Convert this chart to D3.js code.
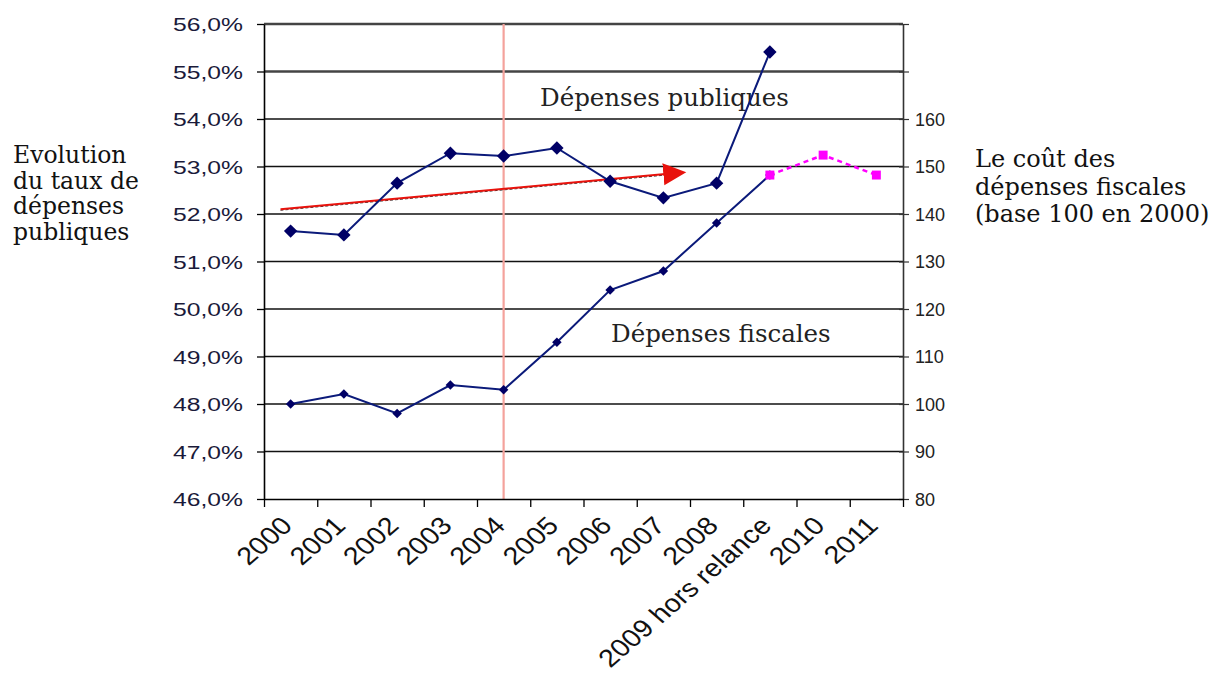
<!DOCTYPE html>
<html>
<head>
<meta charset="utf-8">
<script src="https://cdn.jsdelivr.net/npm/d3@7"></script>
<style>
body { margin: 0; background: #fff; }
</style>
</head>
<body>
<script>
const width = 1226;
const height = 700;

// data
const years = ['2000', '2001', '2002', '2003', '2004', '2005', '2006', '2007', '2008', '2009 hors relance', '2010', '2011'];
const publiques = [51.64, 51.56, 52.65, 53.28, 53.22, 53.39, 52.69, 52.34, 52.65, 55.41];
const fiscales = [100, 102.1, 98, 104, 103, 113, 124, 128, 138.1, 148.2];
const projYears = ['2009 hors relance', '2010', '2011'];
const projFiscales = [148.2, 152.4, 148.2];
const leftTicks = [46, 47, 48, 49, 50, 51, 52, 53, 54, 55, 56];
const rightTicks = [80, 90, 100, 110, 120, 130, 140, 150, 160, 170, 180];
const rightLabelled = [80, 90, 100, 110, 120, 130, 140, 150, 160];
const markerYear = '2004';
const trendFrom = {i: -0.19, v: 52.1};
const trendTo = {i: 7.45, v: 52.84};
const leftTitle = ['Evolution', 'du taux de', 'dépenses', 'publiques'];
const rightTitle = ['Le coût des', 'dépenses fiscales', '(base 100 en 2000)'];

const m = {left: 264, right: 323, top: 24, bottom: 201};
const x0 = m.left, x1 = width - m.right, yTop = m.top, yBot = height - m.bottom;

const svg = d3.select('body').append('svg').attr('width', width).attr('height', height);

const xs = d3.scaleBand().domain(years).range([x0, x1]);
const bw = xs.bandwidth();
const cx = d => xs(d) + bw / 2;
const xi = d3.scaleLinear().domain([-0.5, years.length - 0.5]).range([x0, x1]);
const xEdge = d3.scaleLinear().domain([0, years.length]).range([x0, x1]);
const yl = d3.scaleLinear().domain([46, 56]).range([yBot, yTop]);
const yr = d3.scaleLinear().domain([80, 180]).range([yBot, yTop]);

// gridlines
svg.append('g').selectAll('line')
	.data(leftTicks.filter(t => t > 46))
	.enter().append('line')
	.attr('x1', x0).attr('x2', x1)
	.attr('y1', d => yl(d)).attr('y2', d => yl(d))
	.style('stroke', d => d >= 55 ? '#444' : '#111')
	.style('stroke-width', d => d >= 55 ? 2.6 : 1.3);

// vertical marker line
svg.append('line')
	.attr('x1', cx(markerYear)).attr('x2', cx(markerYear))
	.attr('y1', yTop).attr('y2', yBot)
	.style('stroke', '#f4a29c').style('stroke-width', 2.2);

// annotations (under the lines)
svg.append('text').attr('x', 540).attr('y', 106)
	.style('font-family', 'DejaVu Serif').style('font-size', '24.5px').style('fill', '#222')
	.text('Dépenses publiques');
svg.append('text').attr('x', 611).attr('y', 342)
	.style('font-family', 'DejaVu Serif').style('font-size', '24.5px').style('fill', '#222')
	.text('Dépenses fiscales');

// trend arrow
svg.append('defs').append('marker')
	.attr('id', 'head').attr('markerUnits', 'userSpaceOnUse')
	.attr('markerWidth', 24).attr('markerHeight', 24)
	.attr('refX', 2).attr('refY', 12).attr('orient', 'auto')
	.append('path').attr('d', 'M0,1 L23,12 L0,23 Z').style('fill', '#e8120c');
svg.append('line')
	.attr('x1', xi(trendFrom.i)).attr('y1', yl(trendFrom.v) + 1)
	.attr('x2', xi(trendTo.i) - 22).attr('y2', yl(trendTo.v) + 1)
	.style('stroke', '#333').style('stroke-width', 1).style('stroke-dasharray', '3,2');
svg.append('line')
	.attr('x1', xi(trendFrom.i)).attr('y1', yl(trendFrom.v))
	.attr('x2', xi(trendTo.i) - 22).attr('y2', yl(trendTo.v))
	.attr('marker-end', 'url(#head)')
	.style('stroke', '#e8120c').style('stroke-width', 2);

// series
const pubData = publiques.map((v, i) => ({k: years[i], v: v}));
const fisData = fiscales.map((v, i) => ({k: years[i], v: v}));
const projData = projFiscales.map((v, i) => ({k: projYears[i], v: v}));

svg.append('path').datum(pubData)
	.attr('d', d3.line().x(d => cx(d.k)).y(d => yl(d.v)))
	.style('fill', 'none').style('stroke', '#0b1a7a').style('stroke-width', 2);
svg.append('path').datum(fisData)
	.attr('d', d3.line().x(d => cx(d.k)).y(d => yr(d.v)))
	.style('fill', 'none').style('stroke', '#0b1a7a').style('stroke-width', 2);
svg.append('path').datum(projData)
	.attr('d', d3.line().x(d => cx(d.k)).y(d => yr(d.v)))
	.style('fill', 'none').style('stroke', '#ff00ff').style('stroke-width', 2.5)
	.style('stroke-dasharray', '5,4');

svg.append('g').selectAll('path')
	.data(pubData).enter().append('path')
	.attr('d', d3.symbol(d3.symbolSquare, 90))
	.attr('transform', d => 'translate(' + cx(d.k) + ',' + yl(d.v) + ') rotate(45)')
	.style('fill', '#000066');
svg.append('g').selectAll('path')
	.data(fisData).enter().append('path')
	.attr('d', d3.symbol(d3.symbolSquare, 45))
	.attr('transform', d => 'translate(' + cx(d.k) + ',' + yr(d.v) + ') rotate(45)')
	.style('fill', '#000066');
svg.append('g').selectAll('path')
	.data(projData).enter().append('path')
	.attr('d', d3.symbol(d3.symbolSquare, 80))
	.attr('transform', d => 'translate(' + cx(d.k) + ',' + yr(d.v) + ')')
	.style('fill', '#ff00ff');

// left axis
const fmtPct = d => d3.format('.1f')(d).replace('.', ',') + '%';
const gl = svg.append('g').attr('transform', 'translate(' + x0 + ',0)')
	.call(d3.axisLeft(yl).tickValues(leftTicks).tickFormat(fmtPct).tickSize(7).tickSizeOuter(0));
gl.select('.domain').style('stroke', '#000').style('stroke-width', 1.6);
gl.selectAll('.tick line').style('stroke', '#000').style('stroke-width', 1.3);
gl.selectAll('.tick text')
	.attr('x', 0).attr('dy', '0.35em')
	.attr('transform', 'translate(-21,0) scale(1.3,1)')
	.style('font-family', 'Liberation Sans, Arial').style('font-size', '19px').style('fill', '#1a1a3a');

// right axis
const gr = svg.append('g').attr('transform', 'translate(' + x1 + ',0)')
	.call(d3.axisRight(yr).tickValues(rightTicks)
		.tickFormat(d => rightLabelled.includes(d) ? d : '').tickSize(6).tickSizeOuter(0));
gr.select('.domain').style('stroke', '#333').style('stroke-width', 1.6);
gr.selectAll('.tick line').attr('x1', -4).style('stroke', '#333').style('stroke-width', 1.2);
gr.selectAll('.tick text')
	.attr('x', 12).attr('dy', '0.35em')
	.style('font-family', 'Liberation Sans, Arial').style('font-size', '18px').style('fill', '#222');

// bottom axis: ticks at band edges, labels at centres
const gb = svg.append('g').attr('transform', 'translate(0,' + yBot + ')')
	.call(d3.axisBottom(xEdge).ticks(years.length).tickFormat('').tickSize(8).tickSizeOuter(0));
gb.select('.domain').style('stroke', '#000').style('stroke-width', 1.6);
gb.selectAll('.tick line').style('stroke', '#000').style('stroke-width', 1.3);

const gx = svg.append('g').attr('transform', 'translate(0,' + yBot + ')')
	.call(d3.axisBottom(xs).tickSize(0));
gx.select('.domain').remove();
gx.selectAll('.tick text')
	.attr('x', 0).attr('y', 0).attr('dy', '0.35em')
	.attr('transform', 'translate(-4,22) scale(1.15,1) rotate(-45)')
	.style('text-anchor', 'end')
	.style('font-family', 'Liberation Sans, Arial').style('font-size', '25px').style('fill', '#111');

// side titles
svg.append('g').selectAll('text')
	.data(leftTitle).enter().append('text')
	.attr('x', 13).attr('y', (d, i) => 163 + i * 25.5)
	.style('font-family', 'DejaVu Serif').style('font-size', '23.5px').style('fill', '#111')
	.text(d => d);
svg.append('g').selectAll('text')
	.data(rightTitle).enter().append('text')
	.attr('x', 975).attr('y', (d, i) => 167 + i * 27.5)
	.style('font-family', 'DejaVu Serif').style('font-size', '24px').style('fill', '#111')
	.text(d => d);
</script>
</body>
</html>
